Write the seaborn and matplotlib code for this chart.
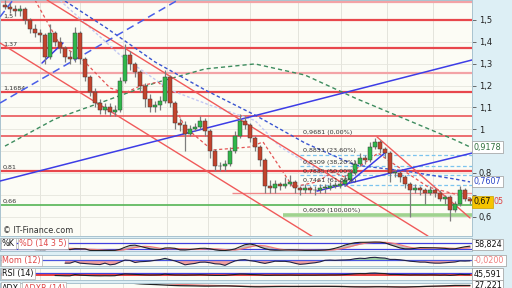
import numpy as np
import pandas as pd
import matplotlib
matplotlib.use("Agg")
import matplotlib.pyplot as plt
import seaborn as sns

sns.set_style("white")
plt.rcParams['font.family'] = ['DejaVu Sans']

# ---------------- data ----------------
first_open = 1.57
close = [1.56, 1.55, 1.54, 1.55, 1.50, 1.46, 1.44, 1.43, 1.33, 1.44,
         1.40, 1.37, 1.33, 1.32, 1.44, 1.32, 1.24, 1.17, 1.12, 1.09,
         1.10, 1.08, 1.09, 1.22, 1.34, 1.30, 1.26, 1.20, 1.14, 1.10,
         1.11, 1.13, 1.24, 1.12, 1.03, 1.02, 0.98, 1.00, 1.01, 1.04,
         0.99, 0.90, 0.83, 0.83, 0.84, 0.90, 0.97, 1.04, 1.02, 0.96,
         0.92, 0.86, 0.74, 0.73, 0.75, 0.74, 0.75, 0.76, 0.73, 0.72,
         0.73, 0.72, 0.72, 0.73, 0.73, 0.74, 0.74, 0.75, 0.77, 0.80,
         0.84, 0.87, 0.86, 0.92, 0.94, 0.91, 0.89, 0.80, 0.80, 0.78,
         0.75, 0.72, 0.73, 0.72, 0.71, 0.72, 0.71, 0.68, 0.69, 0.63,
         0.66, 0.72, 0.68, 0.67]
high = [1.59, 1.58, 1.57, 1.57, 1.56, 1.51, 1.48, 1.46, 1.44, 1.48,
        1.45, 1.42, 1.38, 1.36, 1.47, 1.45, 1.33, 1.25, 1.19, 1.14,
        1.12, 1.12, 1.11, 1.24, 1.39, 1.36, 1.31, 1.27, 1.21, 1.16,
        1.13, 1.15, 1.27, 1.25, 1.13, 1.05, 1.04, 1.02, 1.03, 1.06,
        1.05, 1.00, 0.91, 0.85, 0.86, 0.92, 0.99, 1.07, 1.06, 1.03,
        0.97, 0.93, 0.87, 0.77, 0.77, 0.76, 0.78, 0.79, 0.77, 0.74,
        0.75, 0.74, 0.74, 0.75, 0.75, 0.76, 0.76, 0.77, 0.79, 0.82,
        0.86, 0.89, 0.88, 0.94, 0.96, 0.95, 0.92, 0.90, 0.82, 0.81,
        0.79, 0.76, 0.75, 0.74, 0.73, 0.74, 0.73, 0.72, 0.70, 0.70,
        0.67, 0.74, 0.73, 0.69]
low = [1.55, 1.53, 1.52, 1.52, 1.48, 1.44, 1.42, 1.40, 1.30, 1.32,
       1.38, 1.35, 1.31, 1.30, 1.31, 1.30, 1.22, 1.15, 1.10, 1.07,
       1.07, 1.06, 1.06, 1.08, 1.21, 1.27, 1.24, 1.17, 1.10, 1.08,
       1.08, 1.09, 1.12, 1.10, 1.00, 0.99, 0.90, 0.97, 0.99, 1.00,
       0.97, 0.87, 0.81, 0.81, 0.81, 0.83, 0.89, 0.96, 1.00, 0.94,
       0.90, 0.83, 0.71, 0.71, 0.71, 0.72, 0.73, 0.74, 0.71, 0.70,
       0.71, 0.71, 0.70, 0.71, 0.71, 0.72, 0.73, 0.73, 0.74, 0.76,
       0.79, 0.83, 0.84, 0.85, 0.91, 0.89, 0.87, 0.76, 0.78, 0.76,
       0.73, 0.60, 0.71, 0.70, 0.66, 0.70, 0.69, 0.67, 0.66, 0.58,
       0.62, 0.65, 0.67, 0.66]

# moving averages (candle index, price)
ma_green_x = [0, 10, 20, 30, 40, 50, 60, 70, 80, 90, 93]
ma_green_y = [0.923, 1.047, 1.129, 1.212, 1.276, 1.299, 1.248, 1.143, 1.047, 0.951, 0.919]
ma_navy_x = [12, 20, 30, 40, 50, 60, 70, 80, 90, 93]
ma_navy_y = [1.587, 1.468, 1.308, 1.180, 1.065, 0.937, 0.836, 0.809, 0.772, 0.759]
ma_lav_x = [11, 23, 33, 41, 50, 55, 60, 65]
ma_lav_y = [1.59, 1.34, 1.18, 1.11, 1.04, 0.92, 0.85, 0.77]
ma_red_x = [6, 11, 15, 21, 24, 27, 30.6, 32, 36, 41.4, 46.4, 49, 51.6, 57.6, 62.4, 65.6, 68, 74.6, 76.6, 84.6, 93]
ma_red_y = [1.5915, 1.386, 1.331, 1.189, 1.166, 1.198, 1.216, 1.189, 1.010, 0.905, 0.914, 0.919, 0.942,
            0.736, 0.759, 0.804, 0.781, 0.891, 0.859, 0.736, 0.685]

# horizontal support / resistance levels: (price, kind, start index)
h_levels = [(1.582, 'light', -1), (1.5, 'strong', -1), (1.37, 'strong', -1), (1.258, 'light', -1),
            (1.1684, 'strong', -1), (1.062, 'mid', -1), (0.9681, 'mid', -1), (0.81, 'strong', -1),
            (0.707, 'lightthin', 45.4), (0.655, 'green', -1), (0.6089, 'lightgreen', 55.6)]
left_labels = ["1,5", "1,37", "1,1684", "0,81", "0,66"]
left_label_prices = [1.5, 1.37, 1.1684, 0.81, 0.655]

fib_prices = [0.9681, 0.8833, 0.8309, 0.7885, 0.7461, 0.6089]
fib_texts = ["0,9681 (0,00%)", "0,8833 (23,60%)", "0,8309 (38,20%)", "0,7885 (50,00%)",
             "0,7461 (61,80%)", "0,6089 (100,00%)"]

# trend lines: ((x0, p0), (x1, p1))
trend_red = [((-1, 1.395), (62.6, 0.493)), ((8.4, 1.5915), (84.6, 0.511)), ((74.4, 0.965), (93, 0.594))]
trend_blue = [((-1, 0.763), (93.4, 1.317)), ((7.4, 1.303), (11.6, 1.395)),
              ((62.4, 0.717), (93.4, 0.891)), ((68, 0.740), (76.2, 0.896))]
trend_blue_dash = [((-1, 1.120), (34.6, 1.5915)), ((-1, 1.514), (1.6, 1.5915))]

grid_x = [7, 15, 23.6, 32.4, 40.6, 49, 58.6, 67.2, 76.4, 85.6]
ytick_vals = [0.6, 0.7, 0.8, 0.9, 1.0, 1.1, 1.2, 1.3, 1.4, 1.5]
ytick_labels = ["0,6", "", "0,8", "", "1", "1,1", "1,2", "1,3", "1,4", "1,5"]

# ---------------- figure ----------------
W, H = 512, 288
fig = plt.figure(figsize=(W / 100, H / 100), dpi=100, facecolor='#ddeff5')

def rect(top, bottom):
    return [0, 1 - bottom / H, 472 / W, (bottom - top) / H]

panel_bg = '#fcfcf5'
ax = fig.add_axes(rect(0, 236), facecolor=panel_bg)
s1 = fig.add_axes(rect(238, 251), facecolor=panel_bg)
s2 = fig.add_axes(rect(255, 266), facecolor=panel_bg)
s3 = fig.add_axes(rect(268, 280), facecolor=panel_bg)
s4 = fig.add_axes(rect(283, 300), facecolor=panel_bg)

XL = (-1, 93.4)
n = len(close)
idx = np.arange(n)
c = np.array(close)
o = np.concatenate([[first_open], c[:-1]])
hi = np.array(high)
lo = np.array(low)

for a in [ax, s1, s2, s3, s4]:
    a.set_xlim(*XL)
    a.set_xticks(grid_x)
    a.set_xticklabels([])
    a.tick_params(axis='x', length=0)
    a.grid(axis='x', color='#e4e4dc', lw=0.7)
    for sp in a.spines.values():
        sp.set_color('#a9c3cf')
        sp.set_linewidth(0.7)

# main axis
ax.set_ylim(1.5 - 216 / 218.5, 1.5 + 20 / 218.5)
ax.set_yticks(ytick_vals)
ax.set_yticklabels(ytick_labels)
ax.grid(axis='y', color='#e6e6de', lw=0.6)
ax.yaxis.tick_right()
ax.tick_params(axis='y', labelsize=6, length=3, width=0.6, color='#555555', pad=2, labelcolor='#222222')

# horizontal levels
styles = {'strong': ('#e8474c', 1.6), 'light': ('#f3a3a6', 1.6), 'mid': ('#e8474c', 1.1),
          'lightthin': ('#f08a8c', 1.0), 'green': ('#55b455', 1.2), 'lightgreen': ('#9fd38f', 2.6)}
for p, kind, x0 in h_levels:
    col, lw = styles[kind]
    ax.hlines(p, x0, XL[1], color=col, lw=lw, zorder=1)

# fib dashed lines
for p in fib_prices[1:5]:
    ax.hlines(p, 59, XL[1], color='#7cc4ee', lw=0.9, linestyles=(0, (3, 2)), zorder=1)
for p, t in zip(fib_prices, fib_texts):
    ax.text(59.6, p + 0.006, t, fontsize=4.6, color='#333333', va='bottom', ha='left', zorder=6)

for t, p in zip(left_labels, left_label_prices):
    ax.text(0.006, p + 0.006, t, transform=ax.get_yaxis_transform(), fontsize=4.6,
            color='#333333', va='bottom', ha='left')

# moving averages
sns.lineplot(x=ma_green_x, y=ma_green_y, ax=ax, color='#3d8c5e', lw=1.0, linestyle=(0, (3, 2.2)), zorder=2)
sns.lineplot(x=ma_lav_x, y=ma_lav_y, ax=ax, color='#c3c8f2', lw=1.0, linestyle=(0, (2, 1.5)), zorder=2)
sns.lineplot(x=ma_navy_x, y=ma_navy_y, ax=ax, color='#3a55d0', lw=1.0, linestyle=(0, (2.5, 1.8)), zorder=2)
sns.lineplot(x=ma_red_x, y=ma_red_y, ax=ax, color='#e45555', lw=0.9, linestyle=(0, (2.5, 2)), zorder=2)

# trend lines
for (x0, p0), (x1, p1) in trend_red:
    ax.plot([x0, x1], [p0, p1], color='#f05a5a', lw=1.0, zorder=3)
for (x0, p0), (x1, p1) in trend_blue:
    ax.plot([x0, x1], [p0, p1], color='#3d3de6', lw=1.1, zorder=3)
for (x0, p0), (x1, p1) in trend_blue_dash:
    ax.plot([x0, x1], [p0, p1], color='#4a5ee8', lw=1.1, ls=(0, (5, 3)), zorder=3)

# candles
up = c >= o
ax.vlines(idx, lo, hi, color='#7d7d7d', lw=0.9, zorder=4)
body_lo = np.minimum(o, c)
body_h = np.maximum(np.abs(c - o), 0.004)
ax.bar(idx, body_h, bottom=body_lo, width=0.62,
       color=np.where(up, '#2fb84a', '#c4432c'), edgecolor='#3c3c3c', linewidth=0.35, zorder=5)

ax.text(0.006, 0.005, '\u00a9 IT-Finance.com', transform=ax.transAxes, fontsize=5.8,
        color='#333333', va='bottom', ha='left')

# right value boxes
def vbox(a, y, txt, col, fc='white', ec='#9a9a9a', tr=None, x=1.004):
    return a.text(x, y, txt, transform=tr if tr is not None else a.get_yaxis_transform(), fontsize=5.8,
                  color=col, va='center', ha='left', clip_on=False, zorder=10,
                  bbox=dict(boxstyle='square,pad=0.18', fc=fc, ec=ec, lw=0.5))

vbox(ax, 0.9178, '0,9178', '#2e6e3a')
vbox(ax, 0.7607, '0,7607', '#2a46c8')
vbox(ax, 0.668, '0,67', '#111111', fc='#f6c400', ec='#c8a000')
ax.text(1.046, 0.668, '05', transform=ax.get_yaxis_transform(), fontsize=5.8, color='#e04040',
        va='center', ha='left', clip_on=False, zorder=9)

# ---------------- indicators ----------------
s = pd.Series(c)
hs = pd.Series(hi)
ls_ = pd.Series(lo)
ll = ls_.rolling(14, min_periods=5).min()
hh = hs.rolling(14, min_periods=5).max()
k = (100 * (s - ll) / (hh - ll)).rolling(3).mean()
d = k.rolling(5).mean()
mom = s - s.shift(12)
delta = s.diff()
gain = delta.clip(lower=0).ewm(alpha=1 / 14, adjust=False).mean()
loss = (-delta.clip(upper=0)).ewm(alpha=1 / 14, adjust=False).mean()
rsi = 100 - 100 / (1 + gain / loss.replace(0, np.nan))
rsi[:10] = np.nan
prev_c = s.shift(1)
tr = pd.concat([hs - ls_, (hs - prev_c).abs(), (ls_ - prev_c).abs()], axis=1).max(axis=1)
upm = hs.diff()
dnm = -ls_.diff()
pdm = pd.Series(np.where((upm > dnm) & (upm > 0), upm, 0.0))
ndm = pd.Series(np.where((dnm > upm) & (dnm > 0), dnm, 0.0))
atr = tr.ewm(alpha=1 / 14, adjust=False).mean()
pdi = 100 * pdm.ewm(alpha=1 / 14, adjust=False).mean() / atr
ndi = 100 * ndm.ewm(alpha=1 / 14, adjust=False).mean() / atr
dx = 100 * (pdi - ndi).abs() / (pdi + ndi)
adx = dx.ewm(alpha=1 / 14, adjust=False).mean()
adx[:14] = np.nan
adxr = (adx + adx.shift(10)) / 2

# stochastic
s1.set_ylim(0, 130)
s1.set_yticks([])
s1.axhline(80, color='#4040e0', lw=0.9)
s1.axhline(20, color='#4040e0', lw=0.9)
s1.fill_between(idx, k, d, color='#9a9a9a', alpha=0.6, lw=0)
sns.lineplot(x=idx, y=d.values, ax=s1, color='#f07a7a', lw=0.9)
sns.lineplot(x=idx, y=k.values, ax=s1, color='#222222', lw=0.8)

# momentum
s2.set_ylim(-0.45, 0.40)
s2.set_yticks([])
s2.axhline(0, color='#4a55e0', lw=0.9)
m = mom.values
s2.fill_between(idx, m, 0, where=m < 0, color='#f2a0a0', lw=0, interpolate=True)
s2.fill_between(idx, m, 0, where=m >= 0, color='#9fd49f', lw=0, interpolate=True)
sns.lineplot(x=idx, y=m, ax=s2, color='#222244', lw=0.8)

# RSI
s3.set_ylim(-40, 140)
s3.set_yticks([])
s3.axhline(70, color='#4040e0', lw=0.9)
s3.axhline(30, color='#e02020', lw=1.2)
sns.lineplot(x=idx, y=rsi.values, ax=s3, color='#222222', lw=0.8)

# ADX
s4.set_ylim(-100, 60)
s4.set_yticks([])
sns.lineplot(x=idx, y=adxr.values, ax=s4, color='#f07a7a', lw=1.0)
sns.lineplot(x=idx, y=adx.values, ax=s4, color='#222222', lw=0.9)

for a in [ax, s1, s2, s3, s4]:
    a.set_xlabel('')
    a.set_ylabel('')
    a.set_xlim(*XL)

# subpanel labels
def lab(a, x, txt, col, y=0.92):
    a.text(x, y, txt, transform=a.transAxes, fontsize=5.8, color=col, va='top', ha='left',
           zorder=10, bbox=dict(boxstyle='square,pad=0.15', fc='white', ec='#b0b0b0', lw=0.5))

lab(s1, 0.004, '%K', '#111111')
lab(s1, 0.04, '%D (14 3 5)', '#e04848')
lab(s2, 0.004, 'Mom (12)', '#e04848')
lab(s3, 0.004, 'RSI (14)', '#111111')
lab(s4, 0.004, 'ADX', '#111111', y=0.97)
lab(s4, 0.05, 'ADXR (14)', '#e04848', y=0.97)

vbox(s1, 0.5, '58,824', '#111111', tr=s1.transAxes)
vbox(s2, 0.5, '-0,0200', '#f08080', tr=s2.transAxes)
vbox(s3, 0.5, '45,591', '#111111', tr=s3.transAxes)
vbox(s4, 0.85, '27,221', '#111111', tr=s4.transAxes)

fig.savefig('out.png', dpi=100, facecolor=fig.get_facecolor())
